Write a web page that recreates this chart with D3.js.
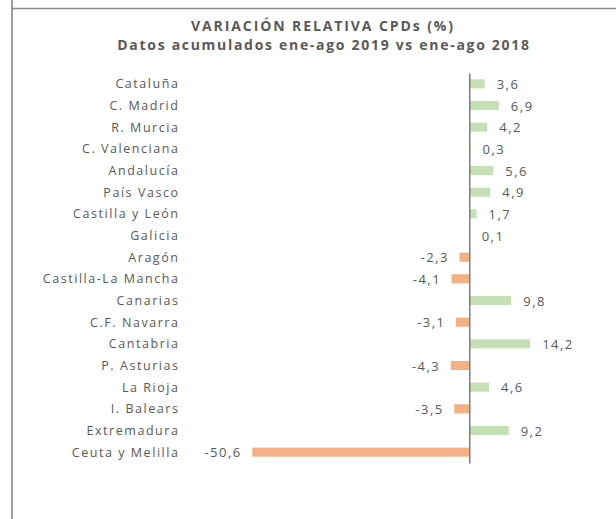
<!DOCTYPE html>
<html><head><meta charset="utf-8">
<script src="https://cdn.jsdelivr.net/npm/d3@7"></script>
<style>
html,body{margin:0;padding:0;background:#fff;}
svg{display:block;}
</style></head>
<body>
<svg id="chart" width="616" height="519"></svg>
<script>
const categories = ["Cataluña","C. Madrid","R. Murcia","C. Valenciana","Andalucía","País Vasco","Castilla y León","Galicia","Aragón","Castilla-La Mancha","Canarias","C.F. Navarra","Cantabria","P. Asturias","La Rioja","I. Balears","Extremadura","Ceuta y Melilla"];
const values = [3.6,6.9,4.2,0.3,5.6,4.9,1.7,0.1,-2.3,-4.1,9.8,-3.1,14.2,-4.3,4.6,-3.5,9.2,-50.6];
const titleLines = ["VARIACIÓN RELATIVA CPDs (%)","Datos acumulados ene-ago 2019 vs ene-ago 2018"];

const svg = d3.select("#chart");
const W = 616, H = 519;
const font = "'Open Sans', sans-serif";
const textColor = "#595959";

// frame lines
svg.append("line").attr("x1",12).attr("x2",12).attr("y1",0).attr("y2",H)
  .attr("stroke","#7f7f7f").attr("stroke-width",1.5);
svg.append("line").attr("x1",12).attr("x2",W).attr("y1",8.5).attr("y2",8.5)
  .attr("stroke","#8a8a8a").attr("stroke-width",1.5);

// title
svg.append("text").attr("x",323).attr("y",31).attr("text-anchor","middle")
  .attr("font-family",font).attr("font-weight","bold").attr("font-size",14)
  .attr("letter-spacing","1.9px")
  .attr("fill",textColor).text(titleLines[0]);
svg.append("text").attr("x",324).attr("y",50).attr("text-anchor","middle")
  .attr("font-family",font).attr("font-weight","bold").attr("font-size",14)
  .attr("letter-spacing","1.7px")
  .attr("fill",textColor).text(titleLines[1]);

const x = d3.scaleLinear().domain([-60,20]).range([212,555]);
const y = d3.scaleBand().domain(categories).range([73,463]).paddingInner(0.58).paddingOuter(0.29);

const data = categories.map((c,i)=>({c, v:values[i]}));

svg.append("g").selectAll("rect").data(data).join("rect")
  .attr("x",d=>x(Math.min(0,d.v)))
  .attr("width",d=>Math.max(Math.abs(x(d.v)-x(0)),0))
  .attr("y",d=>y(d.c))
  .attr("height",y.bandwidth())
  .attr("fill",d=>d.v>=0?"#C5E0B4":"#F4B183");

// zero axis
const axis = d3.axisLeft(y).tickSize(0).tickFormat("");
const ag = svg.append("g").attr("transform",`translate(${x(0)},0)`).call(axis);
ag.select(".domain").attr("stroke","#7f7f7f").attr("stroke-width",1.5);

// category labels
svg.append("g").selectAll("text").data(data).join("text")
  .attr("x",179.5).attr("y",d=>y(d.c)+y.bandwidth()/2+4.5)
  .attr("text-anchor","end").attr("font-family",font).attr("font-size",12.5)
  .attr("letter-spacing","1.55px")
  .attr("fill",textColor).text(d=>d.c);

// value labels
const fmt = v => d3.format(".1f")(v).replace(".",",").replace("−","-");
svg.append("g").selectAll("text").data(data).join("text")
  .attr("x",d=>d.v>=0? x(d.v)+12 : x(d.v)-10.5)
  .attr("y",d=>y(d.c)+y.bandwidth()/2+5)
  .attr("text-anchor",d=>d.v>=0?"start":"end")
  .attr("font-family",font).attr("font-size",13)
  .attr("letter-spacing","1.5px")
  .attr("fill",textColor).text(d=>fmt(d.v));
</script>
</body></html>
